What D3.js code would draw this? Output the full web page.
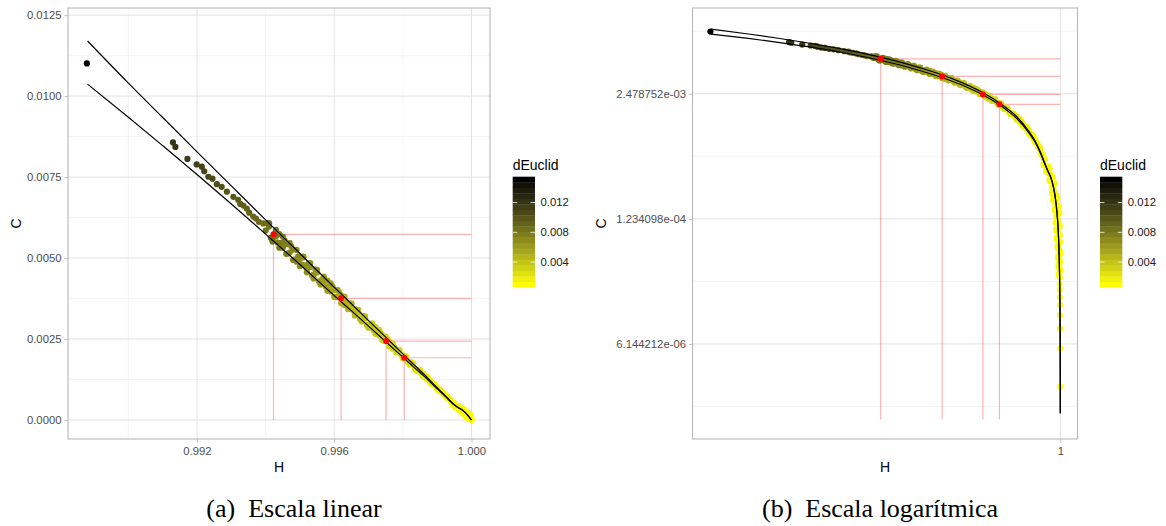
<!DOCTYPE html>
<html lang="pt">
<head>
  <meta charset="UTF-8">
  <title>Plano complexidade-entropia</title>
  <script src="https://d3js.org/d3.v7.min.js"></script>
  <style>
    body { margin: 0; background: #fff; }
    svg text { font-family: "Liberation Sans", Arial, sans-serif; }
    svg text.legenda { font-family: "Liberation Serif", "DejaVu Serif", serif; }
  </style>
</head>
<body>
  <svg id="fig" width="1166" height="526"></svg>

  <script>
    // pontos observados: [H, C, dEuclid]
    const dispersos = [
      [0.98879, 0.01101, 0.01510],
      [0.99130, 0.00857, 0.01210], [0.99137, 0.00843, 0.01200], [0.99172, 0.00806, 0.01160],
      [0.99199, 0.00789, 0.01120], [0.99214, 0.00782, 0.01100], [0.99221, 0.00768, 0.01090],
      [0.99233, 0.00751, 0.01080], [0.99245, 0.00745, 0.01060], [0.99258, 0.00728, 0.01040],
      [0.99272, 0.00720, 0.01020], [0.99287, 0.00705, 0.01000], [0.99306, 0.00689, 0.00980],
      [0.99320, 0.00680, 0.00960], [0.99326, 0.00667, 0.00950], [0.99335, 0.00662, 0.00940],
      [0.99345, 0.00653, 0.00930], [0.99352, 0.00640, 0.00920], [0.99364, 0.00628, 0.00900],
      [0.99372, 0.00622, 0.00890], [0.99380, 0.00612, 0.00880], [0.99393, 0.00607, 0.00870]
    ];
    const bordaSup = [
      [0.99410, 0.006077, 0.00835], [0.99430, 0.005871, 0.00805], [0.99450, 0.005665, 0.00775],
      [0.99470, 0.005459, 0.00745], [0.99490, 0.005253, 0.00715], [0.99510, 0.005047, 0.00685],
      [0.99530, 0.004841, 0.00655], [0.99550, 0.004635, 0.00625], [0.99570, 0.004429, 0.00595],
      [0.99590, 0.004223, 0.00565], [0.99610, 0.004017, 0.00534], [0.99630, 0.003811, 0.00502],
      [0.99650, 0.003605, 0.00470], [0.99670, 0.003399, 0.00438], [0.99690, 0.003193, 0.00406],
      [0.99710, 0.002987, 0.00377], [0.99730, 0.002781, 0.00351], [0.99750, 0.002575, 0.00325],
      [0.99770, 0.002369, 0.00299], [0.99790, 0.002163, 0.00273], [0.99810, 0.001957, 0.00250],
      [0.99830, 0.001751, 0.00230], [0.99850, 0.001545, 0.00210], [0.99870, 0.001339, 0.00190],
      [0.99890, 0.001133, 0.00170], [0.99910, 0.000927, 0.00154], [0.99930, 0.000721, 0.00142],
      [0.99950, 0.000515, 0.00130]
    ];
    const bordaInf = [
      [0.99420, 0.005510, 0.00820], [0.99440, 0.005320, 0.00790], [0.99460, 0.005130, 0.00760],
      [0.99480, 0.004940, 0.00730], [0.99500, 0.004750, 0.00700], [0.99520, 0.004560, 0.00670],
      [0.99540, 0.004370, 0.00640], [0.99560, 0.004180, 0.00610], [0.99580, 0.003990, 0.00580],
      [0.99600, 0.003800, 0.00550], [0.99620, 0.003610, 0.00518], [0.99640, 0.003420, 0.00486],
      [0.99660, 0.003230, 0.00454], [0.99680, 0.003040, 0.00422], [0.99700, 0.002850, 0.00390],
      [0.99720, 0.002660, 0.00364], [0.99740, 0.002470, 0.00338], [0.99760, 0.002280, 0.00312],
      [0.99780, 0.002090, 0.00286], [0.99800, 0.001900, 0.00260], [0.99820, 0.001710, 0.00240],
      [0.99840, 0.001520, 0.00220], [0.99860, 0.001330, 0.00200], [0.99880, 0.001140, 0.00180],
      [0.99900, 0.000950, 0.00160], [0.99920, 0.000760, 0.00148], [0.99940, 0.000570, 0.00136]
    ];
    const faixa1 = [
      [0.99400, 0.005850, 0.00850], [0.99410, 0.005971, 0.00835], [0.99420, 0.005556, 0.00820],
      [0.99430, 0.005672, 0.00805], [0.99440, 0.005740, 0.00790], [0.99450, 0.005324, 0.00775],
      [0.99460, 0.005427, 0.00760], [0.99470, 0.005168, 0.00745], [0.99480, 0.005262, 0.00730],
      [0.99490, 0.004886, 0.00715], [0.99500, 0.004975, 0.00700], [0.99510, 0.005023, 0.00685],
      [0.99520, 0.004646, 0.00670], [0.99530, 0.004724, 0.00655], [0.99540, 0.004485, 0.00640],
      [0.99550, 0.004554, 0.00625], [0.99560, 0.004215, 0.00610], [0.99570, 0.004279, 0.00595],
      [0.99580, 0.004305, 0.00580], [0.99590, 0.003969, 0.00565], [0.99600, 0.004020, 0.00550],
      [0.99610, 0.003803, 0.00534], [0.99620, 0.003846, 0.00518], [0.99630, 0.003545, 0.00502],
      [0.99640, 0.003582, 0.00486], [0.99650, 0.003588, 0.00470], [0.99660, 0.003291, 0.00454],
      [0.99670, 0.003317, 0.00438], [0.99680, 0.003120, 0.00422], [0.99690, 0.003137, 0.00406],
      [0.99700, 0.002874, 0.00390], [0.99710, 0.002886, 0.00377], [0.99720, 0.002870, 0.00364],
      [0.99730, 0.002614, 0.00351], [0.99740, 0.002613, 0.00338], [0.99750, 0.002438, 0.00325],
      [0.99760, 0.002429, 0.00312], [0.99770, 0.002203, 0.00299], [0.99780, 0.002189, 0.00286],
      [0.99790, 0.002153, 0.00273], [0.99800, 0.001936, 0.00260], [0.99810, 0.001910, 0.00250],
      [0.99820, 0.001755, 0.00240], [0.99830, 0.001720, 0.00230], [0.99840, 0.001533, 0.00220],
      [0.99850, 0.001493, 0.00210], [0.99860, 0.001435, 0.00200], [0.99870, 0.001258, 0.00190],
      [0.99880, 0.001206, 0.00180], [0.99890, 0.001073, 0.00170], [0.99900, 0.001012, 0.00160],
      [0.99905, 0.000910, 0.00157], [0.99910, 0.000896, 0.00154], [0.99915, 0.000871, 0.00151],
      [0.99920, 0.000774, 0.00148], [0.99925, 0.000754, 0.00145], [0.99930, 0.000683, 0.00142],
      [0.99935, 0.000658, 0.00139], [0.99940, 0.000575, 0.00136], [0.99945, 0.000547, 0.00133],
      [0.99950, 0.000513, 0.00130]
    ];
    const faixa2 = [
      [0.99405, 0.006069, 0.00843], [0.99415, 0.005628, 0.00828], [0.99425, 0.005750, 0.00813],
      [0.99435, 0.005481, 0.00798], [0.99445, 0.005467, 0.00783], [0.99455, 0.005548, 0.00768],
      [0.99465, 0.005136, 0.00753], [0.99475, 0.005355, 0.00738], [0.99485, 0.004954, 0.00723],
      [0.99495, 0.005050, 0.00708], [0.99505, 0.004802, 0.00693], [0.99515, 0.004777, 0.00678],
      [0.99525, 0.004836, 0.00663], [0.99535, 0.004464, 0.00648], [0.99545, 0.004641, 0.00633],
      [0.99555, 0.004281, 0.00618], [0.99565, 0.004350, 0.00603], [0.99575, 0.004123, 0.00588],
      [0.99585, 0.004088, 0.00573], [0.99595, 0.004123, 0.00558], [0.99605, 0.003792, 0.00542],
      [0.99615, 0.003927, 0.00526], [0.99625, 0.003608, 0.00510], [0.99635, 0.003650, 0.00494],
      [0.99645, 0.003444, 0.00478], [0.99655, 0.003398, 0.00462], [0.99665, 0.003410, 0.00446],
      [0.99675, 0.003120, 0.00430], [0.99685, 0.003213, 0.00414], [0.99695, 0.002934, 0.00398],
      [0.99705, 0.002950, 0.00384], [0.99715, 0.002765, 0.00371], [0.99725, 0.002709, 0.00358],
      [0.99735, 0.002698, 0.00345], [0.99745, 0.002448, 0.00332], [0.99755, 0.002499, 0.00319],
      [0.99765, 0.002261, 0.00306], [0.99775, 0.002250, 0.00293], [0.99785, 0.002086, 0.00280],
      [0.99795, 0.002019, 0.00267], [0.99805, 0.001985, 0.00255], [0.99815, 0.001776, 0.00245],
      [0.99825, 0.001785, 0.00235], [0.99835, 0.001587, 0.00225], [0.99845, 0.001550, 0.00215],
      [0.99855, 0.001407, 0.00205], [0.99865, 0.001330, 0.00195], [0.99875, 0.001273, 0.00185],
      [0.99885, 0.001104, 0.00175], [0.99895, 0.001071, 0.00165], [0.999025, 0.000938, 0.00159],
      [0.999075, 0.000925, 0.00156], [0.999125, 0.000849, 0.00153], [0.999175, 0.000813, 0.00150],
      [0.999225, 0.000789, 0.00147], [0.999275, 0.000696, 0.00144], [0.999325, 0.000689, 0.00141],
      [0.999375, 0.000601, 0.00138], [0.999425, 0.000575, 0.00135], [0.999475, 0.000509, 0.00132]
    ];
    const cauda1 = [
      [0.999456, 4.53e-4, 0.00128], [0.999654, 4.10e-4, 0.00127], [0.999606, 3.71e-4, 0.00126],
      [0.999766, 3.35e-4, 0.00125], [0.999660, 3.04e-4, 0.00124], [0.999779, 2.75e-4, 0.00123],
      [0.999776, 2.48e-4, 0.00122], [0.999734, 2.25e-4, 0.00121], [0.999898, 2.03e-4, 0.00120],
      [0.999821, 1.84e-4, 0.00119], [0.999949, 1.67e-4, 0.00118], [0.999821, 1.51e-4, 0.00117],
      [0.999914, 1.36e-4, 0.00116], [0.999891, 1.23e-4, 0.00115], [0.999849, 1.12e-4, 0.00114],
      [0.999968, 1.01e-4, 0.00113], [0.999894, 9.14e-5, 0.00112], [0.999981, 8.27e-5, 0.00111],
      [0.999891, 7.49e-5, 0.00110], [0.999962, 6.77e-5, 0.00109], [0.999917, 6.13e-5, 0.00108],
      [0.999987, 5.55e-5, 0.00107], [0.999926, 5.02e-5, 0.00106], [0.999981, 4.54e-5, 0.00105],
      [0.999952, 4.11e-5, 0.00104], [0.999987, 3.72e-5, 0.00103], [0.999958, 3.37e-5, 0.00103],
      [0.999987, 3.04e-5, 0.00102]
    ];
    const cauda2 = [
      [0.999627, 4.31e-4, 0.00128], [0.999534, 3.90e-4, 0.00127], [0.999694, 3.53e-4, 0.00126],
      [0.999657, 3.19e-4, 0.00125], [0.999824, 2.89e-4, 0.00124], [0.999745, 2.61e-4, 0.00123],
      [0.999819, 2.36e-4, 0.00122], [0.999888, 2.14e-4, 0.00121], [0.999763, 1.94e-4, 0.00120],
      [0.999893, 1.75e-4, 0.00119], [0.999829, 1.58e-4, 0.00118], [0.999971, 1.43e-4, 0.00117],
      [0.999870, 1.30e-4, 0.00116], [0.999926, 1.17e-4, 0.00115], [0.999981, 1.06e-4, 0.00114],
      [0.999859, 9.61e-5, 0.00113], [0.999962, 8.70e-5, 0.00112], [0.999888, 7.87e-5, 0.00111],
      [0.999990, 7.12e-5, 0.00110], [0.999915, 6.44e-5, 0.00109], [0.999968, 5.83e-5, 0.00108],
      [0.999989, 5.27e-5, 0.00107], [0.999930, 4.77e-5, 0.00106], [0.999982, 4.32e-5, 0.00105],
      [0.999938, 3.91e-5, 0.00104], [0.999989, 3.54e-5, 0.00103], [0.999954, 3.20e-5, 0.00102]
    ];
    const coluna = [
      [0.999979, 2.58e-5, 0.00101], [0.999982, 2.25e-5, 0.00101], [0.999985, 1.88e-5, 0.00100],
      [0.999988, 1.56e-5, 0.00100], [0.999990, 1.22e-5, 0.00099], [0.999993, 8.85e-6, 0.00099],
      [0.999996, 5.54e-6, 0.00098], [0.999998, 2.21e-6, 0.00098]
    ];
    const pontos = [].concat(dispersos, bordaSup, bordaInf, faixa1, faixa2, cauda1, cauda2, coluna);

    // pontos destacados
    const destaqueH = [0.99423, 0.99620, 0.99751, 0.99804];
    const destaqueC = [0.00573, 0.003756, 0.002438, 0.001923];

    // cotas superior e inferior
    const cotaH = [0.98881, 0.99000, 0.99100, 0.99200, 0.99300, 0.99400, 0.99500, 0.99600,
      0.99650, 0.99700, 0.99750, 0.99800, 0.99830, 0.99860, 0.99900, 0.99920, 0.99936,
      0.99950, 0.99960, 0.99968, 0.999785, 0.99984, 0.999894, 0.99993, 0.999968,
      0.999985, 0.999994, 0.999998, 0.9999995];
    const cotaSupC = [0.01170, 0.01040, 0.00934, 0.00828, 0.00723, 0.00618, 0.00514, 0.00410,
      0.00359, 0.00307, 0.00256, 0.00204, 0.00173, 0.00143, 0.000995, 0.000790, 0.000612,
      0.000470, 0.000392, 0.000345, 0.000261, 0.000205, 0.000143, 0.0000980, 0.0000432,
      0.0000200, 0.0000080, 0.0000028, 0.00000117];
    const cotaInfC = [0.01037, 0.00935, 0.00847, 0.00758, 0.00667, 0.00574, 0.00480, 0.00384,
      0.00337, 0.00290, 0.00242, 0.00194, 0.00165, 0.00137, 0.000960, 0.000766, 0.000596,
      0.000460, 0.000385, 0.000340, 0.000258, 0.000203, 0.000142, 0.0000975, 0.0000431,
      0.0000200, 0.0000080, 0.0000028, 0.00000116];

    // eixos
    const linXTicks = [0.992, 0.996, 1.000];
    const linXLabels = ["0.992", "0.996", "1.000"];
    const linXMinor = [0.990, 0.994, 0.998];
    const linYTicks = [0, 0.0025, 0.005, 0.0075, 0.01, 0.0125];
    const linYLabels = ["0.0000", "0.0025", "0.0050", "0.0075", "0.0100", "0.0125"];
    const linYMinor = [0.00125, 0.00375, 0.00625, 0.00875, 0.01125];
    const logXTicks = [1];
    const logXLabels = ["1"];
    const logYTicks = [2.478752e-03, 1.234098e-04, 6.144212e-06];
    const logYLabels = ["2.478752e-03", "1.234098e-04", "6.144212e-06"];
    const logYMinor = [1.110900e-02, 5.530844e-04, 2.753645e-05, 1.370959e-06];
    const legTicks = [0.004, 0.008, 0.012];
    const legLabels = ["0.004", "0.008", "0.012"];

    const svg = d3.select("#fig");

    const dExt = d3.extent(pontos, d => d[2]);
    const cor = d3.scaleLinear().domain(dExt).range(["#ffff00", "#000000"]).interpolate(d3.interpolateLab);

    function painel(cfg) {
      const { x, y, x0, x1, y0, y1, chao } = cfg;
      const g = svg.append("g");

      // grade secundaria
      g.selectAll(null).data(cfg.xMinor).join("line")
        .attr("x1", d => x(d)).attr("x2", d => x(d)).attr("y1", y0).attr("y2", y1)
        .attr("stroke", "#efefef").attr("stroke-width", 0.7);
      g.selectAll(null).data(cfg.yMinor).join("line")
        .attr("y1", d => y(d)).attr("y2", d => y(d)).attr("x1", x0).attr("x2", x1)
        .attr("stroke", "#efefef").attr("stroke-width", 0.7);
      // grade principal
      g.selectAll(null).data(cfg.xTicks).join("line")
        .attr("x1", d => x(d)).attr("x2", d => x(d)).attr("y1", y0).attr("y2", y1)
        .attr("stroke", "#e2e2e2").attr("stroke-width", 1);
      g.selectAll(null).data(cfg.yTicks).join("line")
        .attr("y1", d => y(d)).attr("y2", d => y(d)).attr("x1", x0).attr("x2", x1)
        .attr("stroke", "#e2e2e2").attr("stroke-width", 1);

      // linhas guia dos pontos destacados
      const rosa = "rgba(255,0,0,0.3)";
      g.selectAll(null).data(destaqueH).join("line")
        .attr("x1", d => x(d)).attr("x2", d => x(d))
        .attr("y1", (d, i) => y(destaqueC[i])).attr("y2", y(chao))
        .attr("stroke", rosa).attr("stroke-width", 1.2);
      g.selectAll(null).data(destaqueH).join("line")
        .attr("x1", d => x(d)).attr("x2", x(1))
        .attr("y1", (d, i) => y(destaqueC[i])).attr("y2", (d, i) => y(destaqueC[i]))
        .attr("stroke", rosa).attr("stroke-width", 1.2);

      // pontos
      g.selectAll(null).data(pontos).join("circle")
        .attr("cx", d => x(d[0])).attr("cy", d => y(d[1])).attr("r", 3.1)
        .attr("fill", d => cor(d[2]));

      // cotas
      const linha = d3.line().x(d => x(d[0])).y(d => y(d[1])).curve(d3.curveMonotoneX);
      [cotaSupC, cotaInfC].forEach(cc => {
        g.append("path").datum(cotaH.map((h, i) => [h, cc[i]]))
          .attr("d", linha).attr("fill", "none").attr("stroke", "#000").attr("stroke-width", 1.2);
      });

      // destaques
      g.selectAll(null).data(destaqueH).join("circle")
        .attr("cx", d => x(d)).attr("cy", (d, i) => y(destaqueC[i])).attr("r", 3)
        .attr("fill", "#ff0000");

      // moldura
      g.append("rect").attr("x", x0).attr("y", y0).attr("width", x1 - x0).attr("height", y1 - y0)
        .attr("fill", "none").attr("stroke", "#b8b8b8").attr("stroke-width", 1.1);

      // eixos
      const ax = g.append("g").attr("transform", `translate(0,${y1})`)
        .call(d3.axisBottom(x).tickValues(cfg.xTicks).tickFormat((d, i) => cfg.xLabels[i])
          .tickSize(3.5).tickPadding(4));
      const ay = g.append("g").attr("transform", `translate(${x0},0)`)
        .call(d3.axisLeft(y).tickValues(cfg.yTicks).tickFormat((d, i) => cfg.yLabels[i])
          .tickSize(3.5).tickPadding(3));
      [ax, ay].forEach(a => {
        a.select(".domain").remove();
        a.selectAll(".tick line").attr("stroke", "#b3b3b3").attr("stroke-width", 0.8);
        a.selectAll(".tick text").attr("fill", "#4d4d4d").attr("font-size", 11.3)
          .attr("font-family", "Liberation Sans, Arial, sans-serif");
      });

      // titulos
      g.append("text").attr("x", (x0 + x1) / 2).attr("y", 472).attr("text-anchor", "middle")
        .attr("font-size", 14).text("H");
      g.append("text").attr("transform", `translate(${cfg.cX},${(y0 + y1) / 2}) rotate(-90)`)
        .attr("text-anchor", "middle").attr("font-size", 14).text("C");

      // legenda de cor
      const lx = cfg.legX, ly = 176.7, lw = 22.3, lh = 110.6, nbin = 20;
      const bh = lh / nbin;
      const lg = g.append("g");
      lg.append("text").attr("x", lx).attr("y", 169.5).attr("font-size", 14).text("dEuclid");
      lg.selectAll(null).data(d3.range(nbin)).join("rect")
        .attr("x", lx).attr("width", lw)
        .attr("y", i => ly + lh - (i + 1) * bh).attr("height", bh + 0.3)
        .attr("fill", i => cor(dExt[0] + i / (nbin - 1) * (dExt[1] - dExt[0])));
      const ls = d3.scaleLinear().domain(dExt).range([ly + lh - bh / 2, ly + bh / 2]);
      lg.selectAll(null).data(legTicks).join("line")
        .attr("x1", lx).attr("x2", lx + 4.5).attr("y1", d => ls(d)).attr("y2", d => ls(d))
        .attr("stroke", "#fff").attr("stroke-width", 0.8);
      lg.selectAll(null).data(legTicks).join("line")
        .attr("x1", lx + lw - 4.5).attr("x2", lx + lw).attr("y1", d => ls(d)).attr("y2", d => ls(d))
        .attr("stroke", "#fff").attr("stroke-width", 0.8);
      lg.selectAll(null).data(legTicks).join("text")
        .attr("x", lx + lw + 5.5).attr("y", d => ls(d)).attr("dy", "0.35em")
        .attr("font-size", 11.3).attr("fill", "#1a1a1a").text((d, i) => legLabels[i]);

      // subtitulo
      svg.append("text").attr("class", "legenda").attr("x", cfg.capX).attr("y", 517)
        .attr("text-anchor", "middle").attr("font-size", 26).style("white-space", "pre")
        .text(cfg.caption);
    }

    painel({
      x: d3.scaleLinear().domain([0.98824, 1.000539]).range([68, 490]),
      y: d3.scaleLinear().domain([-0.000586, 0.01272]).range([439, 8]),
      x0: 68, x1: 490, y0: 8, y1: 439, chao: 0,
      xTicks: linXTicks, xLabels: linXLabels, xMinor: linXMinor,
      yTicks: linYTicks, yLabels: linYLabels, yMinor: linYMinor,
      cX: 20.5, legX: 512.7, capX: 294, caption: "(a)  Escala linear"
    });

    painel({
      x: d3.scaleLog().domain([0.98822, 1.000554]).range([692.5, 1077.5]),
      y: d3.scaleLog().domain([6.28e-7, 1.94e-2]).range([439, 8]),
      x0: 692.5, x1: 1077.5, y0: 8, y1: 439, chao: 1e-6,
      xTicks: logXTicks, xLabels: logXLabels, xMinor: [],
      yTicks: logYTicks, yLabels: logYLabels, yMinor: logYMinor,
      cX: 606, legX: 1100, capX: 880, caption: "(b)  Escala logarítmica"
    });
  </script>
</body>
</html>
